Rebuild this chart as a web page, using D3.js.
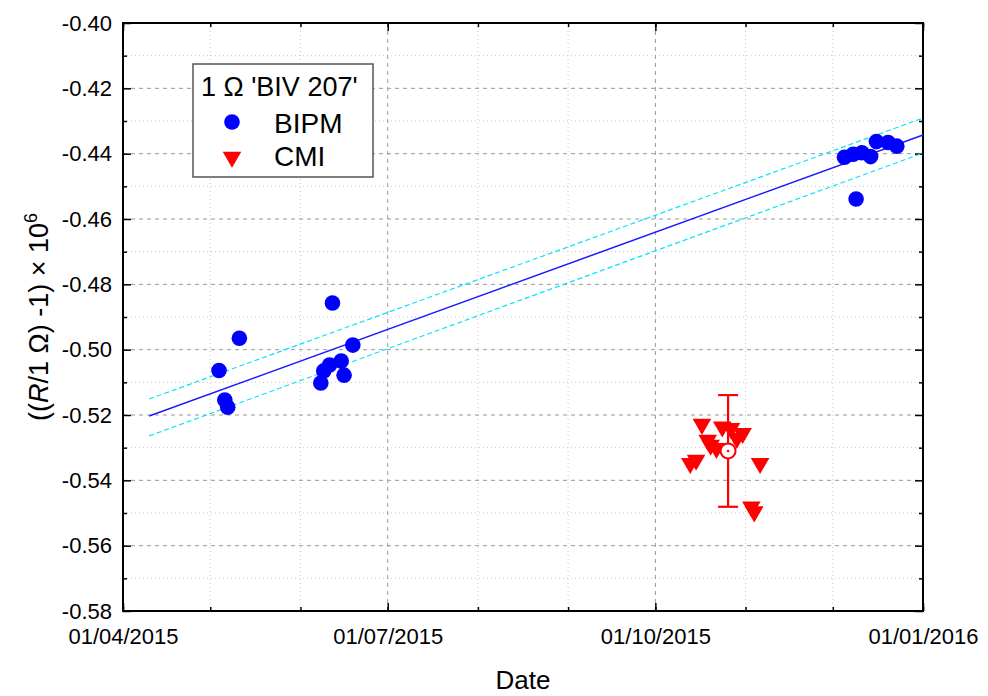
<!DOCTYPE html>
<html>
<head>
  <meta charset="utf-8">
  <script src="https://d3js.org/d3.v7.min.js"></script>
  <style>
    body { margin: 0; background: #fff; }
    svg { font-family: "Liberation Sans", Arial, sans-serif; }
  </style>
</head>
<body>
  <div id="chart"></div>

  <script>
    // BIPM measurements
    const bipmDates = ["2015-05-04", "2015-05-06", "2015-05-07", "2015-05-11",
      "2015-06-08", "2015-06-09", "2015-06-11", "2015-06-12", "2015-06-15", "2015-06-16", "2015-06-19",
      "2015-12-05", "2015-12-08", "2015-12-09", "2015-12-11", "2015-12-14", "2015-12-16", "2015-12-20", "2015-12-23"];
    const bipmValues = [-0.5064, -0.5154, -0.5176, -0.4965,
      -0.5102, -0.5065, -0.5047, -0.4857, -0.5035, -0.5078, -0.4986,
      -0.4411, -0.4402, -0.4539, -0.4397, -0.4409, -0.4363, -0.4366, -0.4377];

    // CMI measurements
    const cmiDates = ["2015-10-13", "2015-10-15", "2015-10-17", "2015-10-19", "2015-10-20", "2015-10-22",
      "2015-10-24", "2015-10-27", "2015-10-29", "2015-10-31", "2015-11-03", "2015-11-04", "2015-11-06"];
    const cmiValues = [-0.5348, -0.5338, -0.5228, -0.5277, -0.5292, -0.5302,
      -0.5236, -0.5241, -0.5271, -0.5256, -0.5481, -0.5496, -0.5348];

    // CMI mean with uncertainty
    const cmiMeanDate = "2015-10-26";
    const cmiMean = -0.5310;
    const cmiUnc = 0.0171;

    // linear fit and its band
    const fitDates = ["2015-04-10", "2016-01-01"];
    const fitValues = [-0.5203, -0.4343];
    const fitUpper = [-0.5151, -0.4291];
    const fitLower = [-0.5264, -0.4398];

    const majorTicks = ["2015-04-01", "2015-07-01", "2015-10-01", "2016-01-01"];
    const yTicks = [-0.58, -0.56, -0.54, -0.52, -0.50, -0.48, -0.46, -0.44, -0.42, -0.40];

    const parse = d3.utcParse("%Y-%m-%d");
    const fmt = d3.utcFormat("%d/%m/%Y");

    const W = 988, H = 696;
    const m = { left: 123, top: 23, right: 65, bottom: 85 };
    const w = W - m.left - m.right, h = H - m.top - m.bottom;

    const x = d3.scaleUtc()
      .domain([parse("2015-04-01"), parse("2016-01-01")])
      .range([0, w]);
    const y = d3.scaleLinear()
      .domain([-0.58, -0.40])
      .range([h, 0]);

    const svg = d3.select("#chart").append("svg")
      .attr("width", W).attr("height", H);
    const g = svg.append("g").attr("transform", `translate(${m.left},${m.top})`);

    const months = x.ticks(d3.utcMonth.every(1));
    const yMinor = d3.range(-0.57, -0.40, 0.02);

    // grid: minor dotted, major dashed
    g.selectAll(".vmin").data(months.filter(d => d.getUTCMonth() % 3 !== 0))
      .enter().append("line")
      .attr("x1", d => x(d)).attr("x2", d => x(d))
      .attr("y1", 0).attr("y2", h)
      .attr("stroke", "#c8c8c8").attr("stroke-dasharray", "1,3");
    g.selectAll(".hmin").data(yMinor)
      .enter().append("line")
      .attr("x1", 0).attr("x2", w)
      .attr("y1", d => y(d)).attr("y2", d => y(d))
      .attr("stroke", "#c8c8c8").attr("stroke-dasharray", "1,3");
    g.selectAll(".vmaj").data(majorTicks.slice(1, 3).map(parse))
      .enter().append("line")
      .attr("x1", d => x(d)).attr("x2", d => x(d))
      .attr("y1", 0).attr("y2", h)
      .attr("stroke", "#999").attr("stroke-dasharray", "4,4");
    g.selectAll(".hmaj").data(yTicks.slice(1, -1))
      .enter().append("line")
      .attr("x1", 0).attr("x2", w)
      .attr("y1", d => y(d)).attr("y2", d => y(d))
      .attr("stroke", "#999").attr("stroke-dasharray", "4,4");

    // axes, ticks pointing inward, mirrored on top and right
    const xMaj = majorTicks.map(parse);
    const xAxisB = d3.axisBottom(x).tickValues(xMaj).tickFormat(fmt).tickSize(-8).tickPadding(17);
    const xAxisBm = d3.axisBottom(x).tickValues(months).tickFormat("").tickSize(-4);
    const xAxisT = d3.axisTop(x).tickValues(xMaj).tickFormat("").tickSize(-8);
    const xAxisTm = d3.axisTop(x).tickValues(months).tickFormat("").tickSize(-4);
    const yAxisL = d3.axisLeft(y).tickValues(yTicks).tickFormat(d => d.toFixed(2)).tickSize(-8).tickPadding(11);
    const yAxisLm = d3.axisLeft(y).tickValues(yMinor).tickFormat("").tickSize(-4);
    const yAxisR = d3.axisRight(y).tickValues(yTicks).tickFormat("").tickSize(-8);
    const yAxisRm = d3.axisRight(y).tickValues(yMinor).tickFormat("").tickSize(-4);

    const axes = [
      [xAxisB, `translate(0,${h})`], [xAxisBm, `translate(0,${h})`],
      [xAxisT, null], [xAxisTm, null],
      [yAxisL, null], [yAxisLm, null],
      [yAxisR, `translate(${w},0)`], [yAxisRm, `translate(${w},0)`]
    ];
    axes.forEach(([ax, tr]) => {
      const a = g.append("g").call(ax);
      if (tr) a.attr("transform", tr);
      a.select(".domain").remove();
      a.selectAll(".tick line").attr("stroke", "#000").attr("stroke-width", 1.5);
      a.selectAll("text").attr("fill", "#000").style("font-size", "22px")
        .style("font-family", "'Liberation Sans', Arial, sans-serif");
    });

    // frame
    g.append("rect").attr("width", w).attr("height", h)
      .attr("fill", "none").attr("stroke", "#000").attr("stroke-width", 2);

    // fit line and band
    const fitPts = (vals) => fitDates.map((d, i) => [x(parse(d)), y(vals[i])]);
    const lineGen = d3.line();
    g.append("path").attr("d", lineGen(fitPts(fitUpper)))
      .attr("stroke", "#00e5ff").attr("stroke-width", 1.2).attr("stroke-dasharray", "5,3").attr("fill", "none");
    g.append("path").attr("d", lineGen(fitPts(fitLower)))
      .attr("stroke", "#00e5ff").attr("stroke-width", 1.2).attr("stroke-dasharray", "5,3").attr("fill", "none");
    g.append("path").attr("d", lineGen(fitPts(fitValues)))
      .attr("stroke", "#1a1aff").attr("stroke-width", 1.5).attr("fill", "none");

    // BIPM points
    g.selectAll(".bipm").data(bipmDates.map((d, i) => [parse(d), bipmValues[i]]))
      .enter().append("circle")
      .attr("cx", d => x(d[0])).attr("cy", d => y(d[1]))
      .attr("r", 7.8).attr("fill", "#0000ff");

    // CMI points
    const tri = d3.symbol().type(d3.symbolTriangle).size(150);
    g.selectAll(".cmi").data(cmiDates.map((d, i) => [parse(d), cmiValues[i]]))
      .enter().append("path")
      .attr("d", tri)
      .attr("transform", d => `translate(${x(d[0])},${y(d[1])}) rotate(180)`)
      .attr("fill", "#ff0000");

    // CMI mean with error bar
    const mx = x(parse(cmiMeanDate));
    g.append("line").attr("x1", mx).attr("x2", mx)
      .attr("y1", y(cmiMean + cmiUnc)).attr("y2", y(cmiMean - cmiUnc))
      .attr("stroke", "#ff0000").attr("stroke-width", 2.2);
    [cmiMean + cmiUnc, cmiMean - cmiUnc].forEach(v => {
      g.append("line").attr("x1", mx - 10).attr("x2", mx + 10)
        .attr("y1", y(v)).attr("y2", y(v))
        .attr("stroke", "#ff0000").attr("stroke-width", 2.2);
    });
    g.append("circle").attr("cx", mx).attr("cy", y(cmiMean)).attr("r", 7.5)
      .attr("fill", "#fff").attr("stroke", "#ff0000").attr("stroke-width", 2);
    g.append("circle").attr("cx", mx).attr("cy", y(cmiMean)).attr("r", 1.3).attr("fill", "#ff0000");

    // legend
    const lg = svg.append("g");
    lg.append("rect").attr("x", 193).attr("y", 64).attr("width", 180).attr("height", 113)
      .attr("fill", "#fff").attr("stroke", "#555").attr("stroke-width", 1.5);
    lg.append("text").attr("x", 201).attr("y", 96).style("font-size", "27px").text("1 Ω 'BIV 207'");
    lg.append("circle").attr("cx", 232).attr("cy", 122).attr("r", 7.8).attr("fill", "#0000ff");
    lg.append("text").attr("x", 274).attr("y", 133).style("font-size", "28px").text("BIPM");
    lg.append("path").attr("d", tri).attr("transform", "translate(232,157) rotate(180)").attr("fill", "#ff0000");
    lg.append("text").attr("x", 274).attr("y", 166).style("font-size", "28px").text("CMI");

    // axis titles
    svg.append("text").attr("x", m.left + w / 2).attr("y", 689)
      .attr("text-anchor", "middle").style("font-size", "26px").text("Date");
    const yl = svg.append("text")
      .attr("transform", `translate(48,${m.top + h / 2}) rotate(-90)`)
      .attr("text-anchor", "middle").style("font-size", "27px");
    yl.append("tspan").text("((");
    yl.append("tspan").style("font-style", "italic").text("R");
    yl.append("tspan").text("/1 Ω) -1) × 10");
    yl.append("tspan").attr("dy", -11).style("font-size", "18px").text("6");
  </script>
</body>
</html>
